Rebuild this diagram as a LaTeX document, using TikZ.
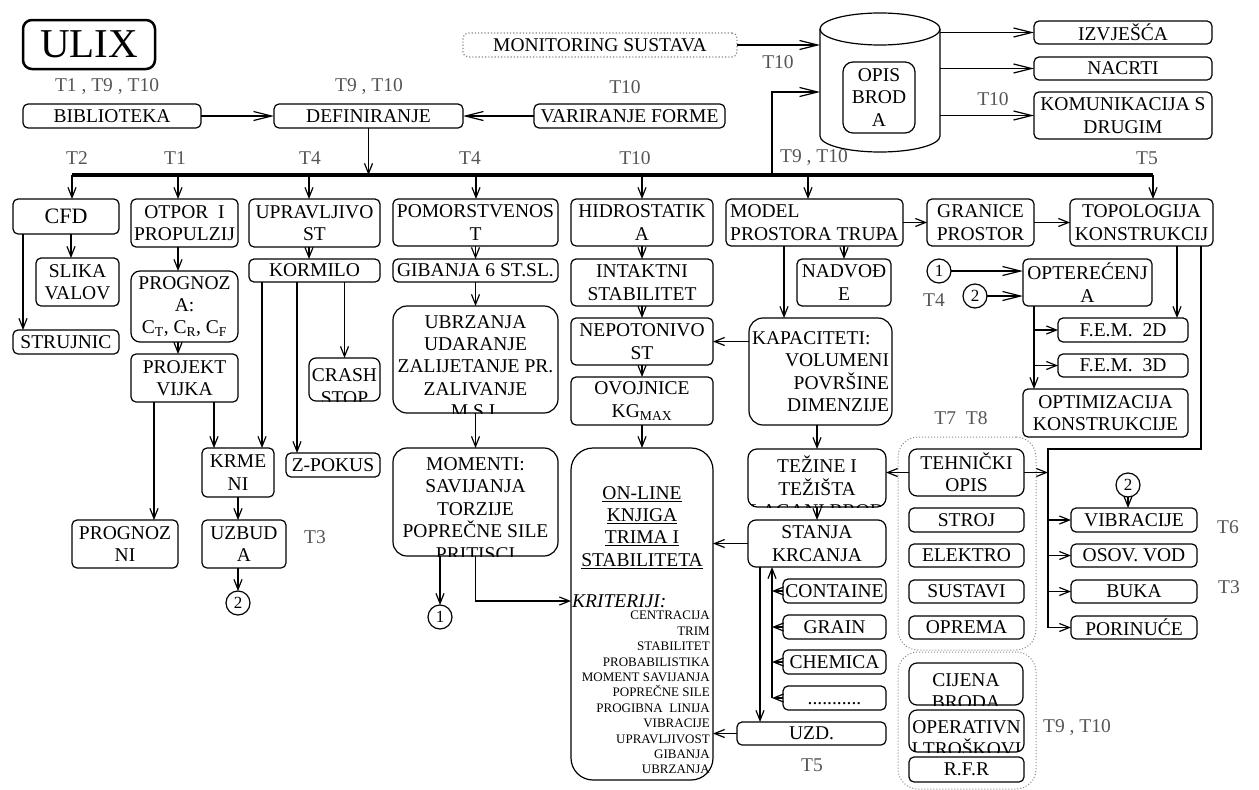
\documentclass[tikz,border=0pt]{standalone}
\usepackage{fontspec}
\setmainfont{Liberation Serif}
\usepackage{tikz}
\usetikzlibrary{arrows.meta}
\definecolor{lbl}{RGB}{85, 85, 85}
\definecolor{grp}{RGB}{135, 135, 135}
\newcommand*{\boxfont}{\fontsize{19.5}{22.4}\selectfont}
\newcommand*{\listfont}{\fontsize{13}{15.4}\selectfont}
\newcommand*{\circfont}{\fontsize{17}{18}\selectfont}
\newcommand*{\cfdfont}{\fontsize{22}{24}\selectfont}
\newcommand*{\ulixfont}{\fontsize{41}{44}\selectfont}

\begin{document}
\begin{tikzpicture}[
   x=1pt, y=-1pt,
   font=\boxfont,
   >={Straight Barb[length=10pt, width=8pt]},
   rbox/.style={rectangle, draw, rounded corners=5, line width=1.2, inner sep=1,
                outer sep=0, align=center},
   tallbox/.style={rbox, rounded corners=14},
   grpbox/.style={rectangle, draw=grp, dotted, rounded corners=20, line width=1},
   circ/.style={circle, draw, line width=1.2, inner sep=0, outer sep=0,
                minimum size=24, font=\circfont},
   tlabel/.style={text=lbl, inner sep=1},
   arr/.style={->, line width=1.2},
   lng/.style={-{Straight Barb[length=18pt, width=9pt]}, line width=1.2},
   bus/.style={line width=4},
   cuttext/.style={path picture={
       \node[anchor=north, align=center, inner sep=0]
         at ([yshift=-7]path picture bounding box.north) {#1};}}
  ]
  \useasboundingbox (0, 0) rectangle (1259, 790);

  % dotted groups in the middle
  \node (grp1) at (967, 543.5) [grpbox, minimum width=138, minimum height=213] {};
  \node (grp2) at (967, 720.5) [grpbox, minimum width=138, minimum height=137] {};

  % top row
  \node (ulix) at (89, 44.5) [rbox, rounded corners=9, line width=2.5,
        minimum width=132, minimum height=49, font=\ulixfont] {ULIX};
  \node (lbib) at (107, 87) [tlabel] {T1 , T9 , T10};
  \node (ldef) at (369, 87) [tlabel] {T9 , T10};
  \node (lvar) at (625, 87) [tlabel] {T10};
  \node (lmon) at (778, 62) [tlabel] {T10};
  \node (lkom) at (993, 99) [tlabel] {T10};

  \node (bib) at (112, 116) [rbox, minimum width=178, minimum height=24] {BIBLIOTEKA};
  \node (def) at (368.5, 116) [rbox, minimum width=189, minimum height=24] {DEFINIRANJE};
  \node (var) at (629.5, 116) [rbox, minimum width=191, minimum height=24] {VARIRANJE FORME};
  \node (mon) at (600, 45) [rbox, draw=grp, dotted, minimum width=274,
        minimum height=24] {MONITORING SUSTAVA};

  % ship database drum
  \node (db) at (880, 82.5) [minimum width=120, minimum height=139, inner sep=0, outer sep=0] {};
  \draw[line width=1.2] ([yshift=-16]db.north west) -- ([yshift=16]db.south west)
    arc[start angle=180, end angle=0, x radius=60, y radius=16]
    -- ([yshift=-16]db.north east);
  \draw[line width=1.2] ([yshift=-16]db.north) ellipse [x radius=60, y radius=16];
  \node (opis) at (879, 97.5) [rbox, rounded corners=10, minimum width=72,
        minimum height=71] {OPIS\\BROD\\A};

  \node (izv) at (1123, 32.5) [rbox, minimum width=178, minimum height=23] {IZVJEŠĆA};
  \node (nac) at (1123, 68.5) [rbox, minimum width=178, minimum height=23] {NACRTI};
  \node (kom) at (1123, 115.5) [rbox, minimum width=178, minimum height=47] {KOMUNIKACIJA S\\DRUGIM};

  % main bus
  \coordinate (busL) at (72, 175);
  \coordinate (busR) at (1153, 175);
  \coordinate (tap) at (772, 175);
  \node (lcfd) at (77, 158) [tlabel] {T2};
  \node (lotp) at (175, 158) [tlabel] {T1};
  \node (lupr) at (310, 158) [tlabel] {T4};
  \node (lpom) at (470, 158) [tlabel] {T4};
  \node (lhid) at (635, 158) [tlabel] {T10};
  \node (lmod) at (814, 158) [tlabel] {T9 , T10};
  \node (ltop) at (1147, 158) [tlabel] {T5};

  % first level
  \node (cfd) at (66, 216.5) [rbox, minimum width=106, minimum height=35, font=\cfdfont] {CFD};
  \node (otpor) at (184.5, 223) [rbox, minimum width=107, minimum height=48] {OTPOR\ \ I\\PROPULZIJ};
  \node (uprav) at (314.5, 223) [rbox, minimum width=131, minimum height=48] {UPRAVLJIVO\\ST};
  \node (pom) at (475.5, 222.5) [rbox, minimum width=165, minimum height=47] {POMORSTVENOS\\T};
  \node (hidro) at (642, 222.5) [rbox, minimum width=142, minimum height=47] {HIDROSTATIK\\A};
  \node (model) at (814.5, 222.5) [rbox, align=left, minimum width=177, minimum height=47] {MODEL\\PROSTORA TRUPA};
  \node (gran) at (980.5, 222.5) [rbox, minimum width=107, minimum height=47] {GRANICE\\PROSTOR};
  \node (topo) at (1141.5, 222.5) [rbox, minimum width=143, minimum height=47] {TOPOLOGIJA\\KONSTRUKCIJ};

  % CFD and resistance
  \node (slika) at (77.5, 282) [rbox, minimum width=83, minimum height=48] {SLIKA\\VALOV};
  \node (struj) at (66, 342) [rbox, minimum width=106, minimum height=24] {STRUJNIC};
  \node (prog) at (184.5, 306.5) [rbox, rounded corners=9, minimum width=107, minimum height=71]
        {PROGNOZ\\A:\\C\textsubscript{T}, C\textsubscript{R}, C\textsubscript{F}};
  \node (proj) at (184.5, 378) [rbox, minimum width=107, minimum height=48] {PROJEKT\\VIJKA};
  \node (prgni) at (125, 544) [rbox, minimum width=106, minimum height=48] {PROGNOZ\\NI};
  \node (krmeni) at (238, 472.5) [rbox, minimum width=72, minimum height=49] {KRME\\NI};
  \node (uzbuda) at (244, 544) [rbox, minimum width=84, minimum height=48] {UZBUD\\A};
  \node (c2a) at (238, 603) [circ] {2};
  \node (luzb) at (315, 537) [tlabel] {T3};

  % manoeuvring
  \node (korm) at (314.5, 270.5) [rbox, minimum width=131, minimum height=23] {KORMILO};
  \node (crash) at (344.5, 379.5) [rbox, rounded corners=7, minimum width=71, minimum height=43,
        cuttext={CRASH\\STOP}] {};
  \node (zpok) at (333, 465) [rbox, minimum width=94, minimum height=24] {Z-POKUS};

  % seakeeping
  \node (gib) at (475.5, 270.5) [rbox, minimum width=165, minimum height=23] {GIBANJA 6 ST.SL.};
  \node (ubr) at (475.5, 359.5) [tallbox, minimum width=165, minimum height=107,
        cuttext={UBRZANJA\\UDARANJE\\ZALIJETANJE PR.\\ZALIVANJE\\M.S.I.}] {};
  \node (mom) at (475.5, 502) [tallbox, minimum width=165, minimum height=108,
        cuttext={MOMENTI:\\SAVIJANJA\\TORZIJE\\POPREČNE SILE\\PRITISCI}] {};
  \node (c1a) at (440, 617) [circ] {1};

  % hydrostatics
  \node (intakt) at (642, 282.5) [rbox, minimum width=142, minimum height=47] {INTAKTNI\\STABILITET};
  \node (nepot) at (642, 341.5) [rbox, minimum width=142, minimum height=47] {NEPOTONIVO\\ST};
  \node (ovoj) at (642, 401) [rbox, minimum width=142, minimum height=48] {OVOJNICE\\KG\textsubscript{MAX}};
  \node (online) at (642, 614) [rbox, rounded corners=22, minimum width=142, minimum height=332] {};
  \node (ttl) at ([yshift=-38]online.north) [anchor=north, align=center, inner sep=0]
        {\underline{ON-LINE}\\\underline{KNJIGA}\\\underline{TRIMA I}\\\underline{STABILITETA}};
  \node (krit) at ([yshift=13]online.west) [anchor=west, inner sep=1] {\itshape KRITERIJI:};
  \node (klist) at ([xshift=-3, yshift=-163]online.north east) [anchor=north east, align=right,
        inner sep=0, font=\listfont]
        {CENTRACIJA\\TRIM\\STABILITET\\PROBABILISTIKA\\MOMENT SAVIJANJA\\POPREČNE SILE\\
         PROGIBNA\ \ LINIJA\\VIBRACIJE\\UPRAVLJIVOST\\GIBANJA\\UBRZANJA};

  % hull space model
  \node (nadv) at (844, 282.5) [rbox, minimum width=94, minimum height=47] {NADVOĐ\\E};
  \node (kap) at (820.5, 371.5) [tallbox, text width=137, align=right, minimum width=143,
        minimum height=107] {\hbox to 137pt{KAPACITETI:\hfil}\\VOLUMENI\\POVRŠINE\\DIMENZIJE};
  \node (tez) at (817, 478) [rbox, rounded corners=9, minimum width=138, minimum height=58,
        cuttext={TEŽINE I\\TEŽIŠTA\\LAGANI BROD}] {};
  \node (stanja) at (817, 543.5) [rbox, rounded corners=8, minimum width=138, minimum height=47] {STANJA\\KRCANJA};
  \node (cont) at (834.5, 591) [rbox, minimum width=103, minimum height=24] {CONTAINE};
  \node (grain) at (834.5, 627) [rbox, minimum width=103, minimum height=24] {GRAIN};
  \node (chem) at (834.5, 662) [rbox, minimum width=103, minimum height=24] {CHEMICA};
  \node (dots) at (834.5, 698) [rbox, minimum width=103, minimum height=24] {\vphantom{A}...........};
  \node (uzd) at (811.5, 733.5) [rbox, minimum width=149, minimum height=23] {UZD.};
  \node (luzd) at (812, 765) [tlabel] {T5};

  % structure
  \node (c1b) at (939, 271) [circ] {1};
  \node (c2b) at (975, 296) [circ] {2};
  \node (lopt) at (934, 300) [tlabel] {T4};
  \node (opt) at (1087.5, 282.5) [rbox, minimum width=129, minimum height=47] {OPTEREĆENJ\\A};
  \node (fem2) at (1123, 330) [rbox, minimum width=130, minimum height=24] {F.E.M.\ \ 2D};
  \node (fem3) at (1123, 365.5) [rbox, minimum width=130, minimum height=23] {F.E.M.\ \ 3D};
  \node (optim) at (1105.5, 413) [rbox, minimum width=165, minimum height=48] {OPTIMIZACIJA\\KONSTRUKCIJE};

  % outfitting and costs
  \node (ltehn) at (961, 418) [tlabel] {T7\ \ T8};
  \node (tehn) at (966.5, 472.5) [rbox, rounded corners=8, minimum width=115, minimum height=47] {TEHNIČKI\\OPIS};
  \node (stroj) at (966.5, 520) [rbox, minimum width=115, minimum height=24] {STROJ};
  \node (elek) at (966.5, 555.5) [rbox, minimum width=115, minimum height=23] {ELEKTRO};
  \node (sust) at (966.5, 591.5) [rbox, minimum width=115, minimum height=23] {SUSTAVI};
  \node (oprema) at (966.5, 627.5) [rbox, minimum width=115, minimum height=23] {OPREMA};
  \node (cij) at (966, 684) [rbox, rounded corners=8, minimum width=114, minimum height=42,
        cuttext={CIJENA\\BRODA}] {};
  \node (oper) at (966.5, 731) [rbox, rounded corners=8, minimum width=115, minimum height=42,
        cuttext={OPERATIVN\\I TROŠKOVI}] {};
  \node (rfr) at (966.5, 769.5) [rbox, minimum width=115, minimum height=25] {R.F.R};
  \node (lcost) at (1077, 728) [tlabel] {T9 , T10};

  % vibration and launching
  \node (c2c) at (1128, 485) [circ] {2};
  \node (vib) at (1134, 520) [rbox, minimum width=126, minimum height=24] {VIBRACIJE};
  \node (osov) at (1134, 555.5) [rbox, minimum width=126, minimum height=23] {OSOV. VOD};
  \node (buka) at (1134, 591.5) [rbox, minimum width=126, minimum height=23] {BUKA};
  \node (por) at (1134, 627.5) [rbox, minimum width=126, minimum height=23] {PORINUĆE};
  \node (lvib) at (1228, 527) [tlabel] {T6};
  \node (lbuka) at (1229, 587) [tlabel] {T3};

  % Connections
  \draw[lng] (bib) -- (def);
  \draw[lng] (var) -- (def);
  \draw[arr] (def) -- (def |- busL);
  \draw[lng] (mon) -- (mon -| db.west);
  \draw[lng] (tap) |- ([yshift=-9.5]db.west);
  \foreach \n in {izv, nac, kom} {
    \draw[lng] (\n.west -| db.east) -- (\n.west);
  }

  \draw[bus] (busL) -- (busR);
  \foreach \n/\dx in {cfd/6, otpor/-6.5, uprav/-5.5, pom/0.5, hidro/0, model/-6.5, topo/11.5} {
    \draw[arr] ([xshift=\dx]\n.north |- busL) -- ([xshift=\dx]\n.north);
  }

  \draw[arr] ([xshift=5]cfd.south) -- ([xshift=5]cfd.south |- slika.north);
  \draw[arr] ([xshift=-43]cfd.south) -- ([xshift=-43]cfd.south |- struj.north);

  \draw[arr] ([xshift=-6.5]otpor.south) -- ([xshift=-6.5]prog.north);
  \draw[arr] ([xshift=-6.5]prog.south) -- ([xshift=-6.5]proj.north);
  \draw[arr] ([xshift=-30.5]proj.south) -- ([xshift=-30.5]proj.south |- prgni.north);
  \draw[arr] ([xshift=29.5]proj.south) -- ([xshift=29.5]proj.south |- krmeni.north);
  \draw[arr] (krmeni) -- (krmeni |- uzbuda.north);
  \draw[arr] (uzbuda.south -| c2a) -- (c2a);

  \draw[arr] ([xshift=-5.5]uprav.south) -- ([xshift=-5.5]korm.north);
  \draw[arr] ([xshift=24]krmeni.north |- korm.south) -- ([xshift=24]krmeni.north);
  \draw[arr] ([xshift=-36]zpok.north |- korm.south) -- ([xshift=-36]zpok.north);
  \draw[arr] (crash.north |- korm.south) -- (crash.north);

  \draw[arr] (pom) -- (gib);
  \draw[arr] (gib) -- (ubr);
  \draw[arr] (ubr) -- (mom);
  \draw[arr] (mom.south -| c1a) -- (c1a);
  \draw[arr] (mom.south) |- (krit.west);

  \draw[arr] (hidro) -- (intakt);
  \draw[arr] (intakt) -- (nepot);
  \draw[arr] (nepot) -- (ovoj);
  \draw[arr] (ovoj) -- (online);

  \draw[arr] (model) -- (gran);
  \draw[arr] (gran) -- (topo);
  \draw[arr] (nadv.north |- model.south) -- (nadv.north);
  \draw[arr] ([xshift=-36.5]kap.north |- model.south) -- ([xshift=-36.5]kap.north);
  \draw[arr] (kap.west |- nepot.east) -- (nepot.east);
  \draw[arr] (tez.north |- kap.south) -- (tez.north);
  \draw[arr] (tez) -- (stanja);
  \draw[arr] (stanja) -- (stanja -| online.east);
  \draw[arr] ([xshift=-57]stanja.south) -- ([xshift=-57]stanja.south |- uzd.north);
  \draw[arr] (uzd) -- (uzd -| online.east);
  % cargo cases feed the loading conditions
  \draw[arr] ([xshift=-11]dots.west) -- ([xshift=-11]dots.west |- stanja.south);
  \foreach \n in {cont, grain, chem, dots} {
    \draw[arr] (\n.west) -- ([xshift=-11]\n.west);
  }

  \draw[lng] (c1b) -- (c1b -| opt.west);
  \draw[lng] (c2b) -- (c2b -| opt.west);
  \draw[arr] ([xshift=11]opt.south west) -- ([xshift=11]opt.south west |- optim.north);
  \draw[arr] ([xshift=11]opt.south west |- fem2.west) -- (fem2.west);
  \draw[arr] ([xshift=11]opt.south west |- fem3.west) -- (fem3.west);
  \draw[arr] ([xshift=54]fem2.north |- topo.south) -- ([xshift=54]fem2.north);

  \coordinate (rail) at (1048, 449);
  \draw[line width=1.2] ([xshift=-12]topo.south east) |- (rail) -- (rail |- por.west);
  \foreach \n in {vib, osov, buka, por} {
    \draw[arr] (rail |- \n.west) -- (\n.west);
  }
  \draw[arr] (tehn) -- (tehn -| rail);
  \draw[arr] (tehn) -- (tehn -| tez.east);
  \draw[arr] (c2c) -- (c2c |- vib.north);

\end{tikzpicture}
\end{document}
